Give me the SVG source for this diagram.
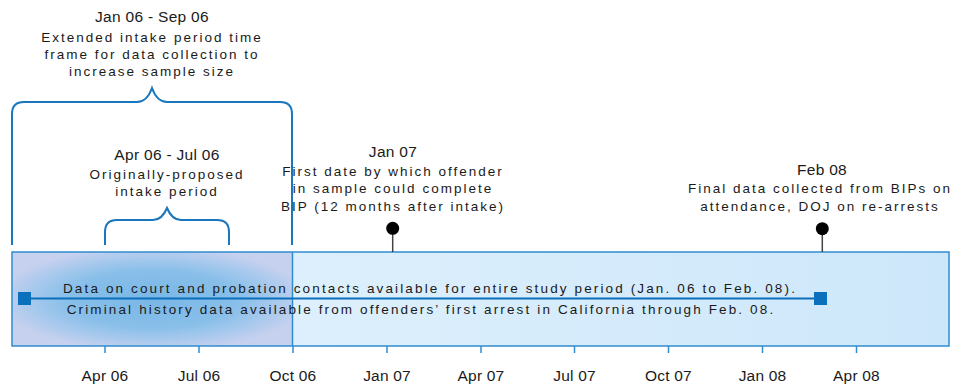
<svg xmlns="http://www.w3.org/2000/svg" width="956" height="385" viewBox="0 0 956 385">
<style>
.h{font-family:"Liberation Sans",Arial,sans-serif;font-size:15.5px;fill:#1a1a1a;text-anchor:middle;letter-spacing:0.3px}
.t{font-family:"Liberation Sans",Arial,sans-serif;font-size:13.5px;fill:#1a1a1a;text-anchor:middle;letter-spacing:2px}
.d{font-family:"Liberation Sans",Arial,sans-serif;font-size:13.5px;fill:#1a1a1a;text-anchor:middle;letter-spacing:2.13px}
.ax{font-family:"Liberation Sans",Arial,sans-serif;font-size:15.5px;fill:#1a1a1a;text-anchor:middle;letter-spacing:0.2px}
.brace{fill:none;stroke:#1a76bd;stroke-width:2}
.tick{stroke:#2f8ccf;stroke-width:1.5}
.pin{stroke:#444;stroke-width:1.5}
</style>
<defs>
<linearGradient id="lg" x1="0" y1="0" x2="1" y2="0">
<stop offset="0" stop-color="#e4f3fd"/>
<stop offset="1" stop-color="#cde7fa"/>
</linearGradient>
<radialGradient id="rg" cx="0.5" cy="0.5" r="0.55">
<stop offset="0" stop-color="#7ab7e6"/>
<stop offset="0.55" stop-color="#88bfe9"/>
<stop offset="0.82" stop-color="#abcaed"/>
<stop offset="1" stop-color="#c6d0ef"/>
</radialGradient>
</defs>
<g id="timeline-bar">
<rect x="12" y="252" width="937" height="94" fill="url(#lg)"/>
<rect x="12" y="252" width="281" height="94" fill="url(#rg)"/>
<rect x="12" y="252" width="937" height="94" fill="none" stroke="#2f8ccf" stroke-width="1.5"/>
<line x1="292.5" y1="252" x2="292.5" y2="346" class="tick"/>
</g>
<g id="axis">
<g class="tick">
<line x1="105" y1="346" x2="105" y2="353"/>
<line x1="199" y1="346" x2="199" y2="353"/>
<line x1="293" y1="346" x2="293" y2="353"/>
<line x1="387" y1="346" x2="387" y2="353"/>
<line x1="481" y1="346" x2="481" y2="353"/>
<line x1="574.5" y1="346" x2="574.5" y2="353"/>
<line x1="668.5" y1="346" x2="668.5" y2="353"/>
<line x1="762.5" y1="346" x2="762.5" y2="353"/>
<line x1="856.5" y1="346" x2="856.5" y2="353"/>
</g>
<text class="ax" x="105" y="381">Apr 06</text>
<text class="ax" x="199" y="381">Jul 06</text>
<text class="ax" x="293" y="381">Oct 06</text>
<text class="ax" x="387" y="381">Jan 07</text>
<text class="ax" x="481" y="381">Apr 07</text>
<text class="ax" x="574.5" y="381">Jul 07</text>
<text class="ax" x="668.5" y="381">Oct 07</text>
<text class="ax" x="762.5" y="381">Jan 08</text>
<text class="ax" x="856.5" y="381">Apr 08</text>
</g>
<g id="connectors">
<line x1="25" y1="298.5" x2="820" y2="298.5" stroke="#0a6fbb" stroke-width="2"/>
<rect x="18" y="292" width="13" height="13" fill="#0a70bc"/>
<rect x="814" y="292" width="13" height="13" fill="#0a70bc"/>
<line x1="392.7" y1="232" x2="392.7" y2="252" class="pin"/>
<line x1="822.3" y1="232" x2="822.3" y2="252" class="pin"/>
</g>
<g id="data-text">
<text class="d" x="430" y="293">Data on court and probation contacts available for entire study period (Jan. 06 to Feb. 08).</text>
<text class="d" x="421" y="314">Criminal history data available from offenders’ first arrest in California through Feb. 08.</text>
</g>
<g id="extended-intake">
<path class="brace" d="M12,245 V114 Q12,102 24,102 H137 Q147,102 152,88 Q157,102 167,102 H280 Q292,102 292,114 V245"/>
<text class="h" x="152" y="22">Jan 06 - Sep 06</text>
<text class="t" x="152" y="42">Extended intake period time</text>
<text class="t" x="152" y="59">frame for data collection to</text>
<text class="t" x="152" y="76">increase sample size</text>
</g>
<g id="original-intake">
<path class="brace" d="M105,245 V232 Q105,220 117,220 H153 Q162,220 167,208 Q172,220 181,220 H217 Q229,220 229,232 V245"/>
<text class="h" x="167" y="160">Apr 06 - Jul 06</text>
<text class="t" x="167" y="179">Originally-proposed</text>
<text class="t" x="167" y="196">intake period</text>
</g>
<g id="jan07">
<circle cx="392.7" cy="228.3" r="6.5" fill="#000"/>
<text class="h" x="393" y="157">Jan 07</text>
<text class="t" x="393" y="176">First date by which offender</text>
<text class="t" x="393" y="193">in sample could complete</text>
<text class="t" x="393" y="211">BIP (12 months after intake)</text>
</g>
<g id="feb08">
<circle cx="822.3" cy="228.7" r="6.5" fill="#000"/>
<text class="h" x="822" y="175">Feb 08</text>
<text class="t" x="820" y="193">Final data collected from BIPs on</text>
<text class="t" x="820" y="211">attendance, DOJ on re-arrests</text>
</g>
</svg>
